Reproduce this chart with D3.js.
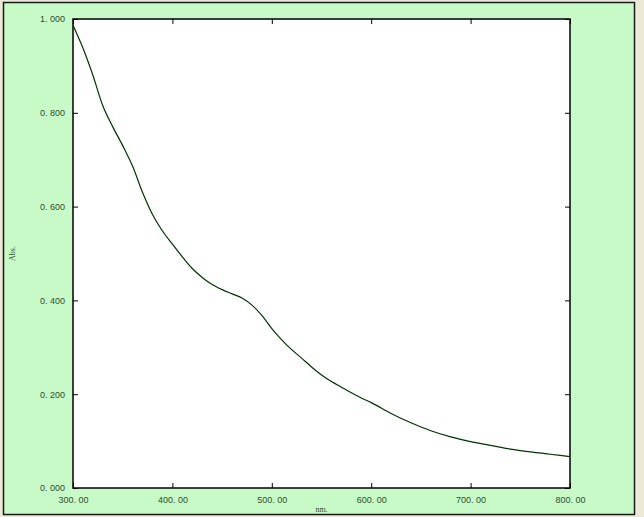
<!DOCTYPE html>
<meta charset="utf-8">
<style>
body { margin: 0; background: #ece9d8; }
.tick text { font: 9px "Liberation Sans", Arial, sans-serif; fill: #2e4e2e; }
.axis-title { font: 8px "Liberation Serif", serif; fill: #2e4e2e; }
</style>
<body>
<script src="https://d3js.org/d3.v7.min.js"></script>
<script>

var wavelength = [300, 310, 320, 330, 340, 350, 360, 370, 380, 390, 400,
                  410, 420, 430, 440, 450, 460, 470, 480, 490, 500,
                  510, 520, 530, 540, 550, 560, 570, 580, 590, 600,
                  620, 640, 660, 680, 700, 720, 740, 760, 780, 800];
var absorbance = [0.987, 0.938, 0.880, 0.815, 0.770, 0.730, 0.686, 0.630, 0.583, 0.548, 0.520,
                  0.493, 0.468, 0.449, 0.434, 0.423, 0.414, 0.405, 0.390, 0.368, 0.340,
                  0.316, 0.295, 0.277, 0.258, 0.241, 0.227, 0.215, 0.203, 0.192, 0.182,
                  0.159, 0.139, 0.122, 0.109, 0.099, 0.091, 0.083, 0.077, 0.072, 0.067];

var xTicks = [300, 400, 500, 600, 700, 800],
    yTicks = [0, 0.2, 0.4, 0.6, 0.8, 1.0];

var width = 644, height = 517,
    plot = {left: 73, right: 570, top: 19, bottom: 488};

var svg = d3.select("body").append("svg")
    .attr("width", width)
    .attr("height", height);

// green frame
svg.append("rect")
    .attr("x", 3.5).attr("y", 2.5)
    .attr("width", 631).attr("height", 512)
    .attr("fill", "#c8fac8")
    .attr("stroke", "#1a1a1a")
    .attr("stroke-width", 1.5);

var x = d3.scaleLinear().domain([300, 800]).range([plot.left, plot.right]),
    y = d3.scaleLinear().domain([0, 1]).range([plot.bottom, plot.top]);

svg.append("rect")
    .attr("x", plot.left).attr("y", plot.top)
    .attr("width", plot.right - plot.left).attr("height", plot.bottom - plot.top)
    .attr("fill", "#fff");

// bottom axis with labels, ticks inward
svg.append("g")
    .attr("transform", "translate(0," + plot.bottom + ")")
    .call(d3.axisBottom(x).tickValues(xTicks).tickSizeInner(-5).tickSizeOuter(0).tickPadding(9)
      .tickFormat(function(d) { return d3.format(".2f")(d).replace(".", ". "); }))
    .call(function(g) { g.select(".domain").remove(); g.selectAll("line").attr("stroke", "#000"); });

svg.append("g")
    .attr("transform", "translate(0," + plot.top + ")")
    .call(d3.axisTop(x).tickValues(xTicks).tickSizeInner(-5).tickSizeOuter(0).tickFormat(""))
    .call(function(g) { g.select(".domain").remove(); g.selectAll("line").attr("stroke", "#000"); });

svg.append("g")
    .attr("transform", "translate(" + plot.left + ",0)")
    .call(d3.axisLeft(y).tickValues(yTicks).tickSizeInner(-5).tickSizeOuter(0).tickPadding(8)
      .tickFormat(function(d) { return d3.format(".3f")(d).replace(".", ". "); }))
    .call(function(g) { g.select(".domain").remove(); g.selectAll("line").attr("stroke", "#000"); });

svg.append("g")
    .attr("transform", "translate(" + plot.right + ",0)")
    .call(d3.axisRight(y).tickValues(yTicks).tickSizeInner(-5).tickSizeOuter(0).tickFormat(""))
    .call(function(g) { g.select(".domain").remove(); g.selectAll("line").attr("stroke", "#000"); });

svg.append("rect")
    .attr("x", plot.left).attr("y", plot.top)
    .attr("width", plot.right - plot.left).attr("height", plot.bottom - plot.top)
    .attr("fill", "none")
    .attr("stroke", "#000")
    .attr("stroke-width", 1.5);

var line = d3.line()
    .curve(d3.curveMonotoneX)
    .x(function(d, i) { return x(wavelength[i]); })
    .y(function(d) { return y(d); });

svg.append("path")
    .datum(absorbance)
    .attr("d", line)
    .attr("fill", "none")
    .attr("stroke", "#003300")
    .attr("stroke-width", 1.2);

svg.append("text")
    .attr("class", "axis-title")
    .attr("x", (plot.left + plot.right) / 2)
    .attr("y", 512)
    .attr("text-anchor", "middle")
    .text("nm.");

svg.append("text")
    .attr("class", "axis-title")
    .attr("transform", "translate(15," + (plot.top + plot.bottom) / 2 + ")rotate(-90)")
    .attr("text-anchor", "middle")
    .text("Abs.");

</script>
